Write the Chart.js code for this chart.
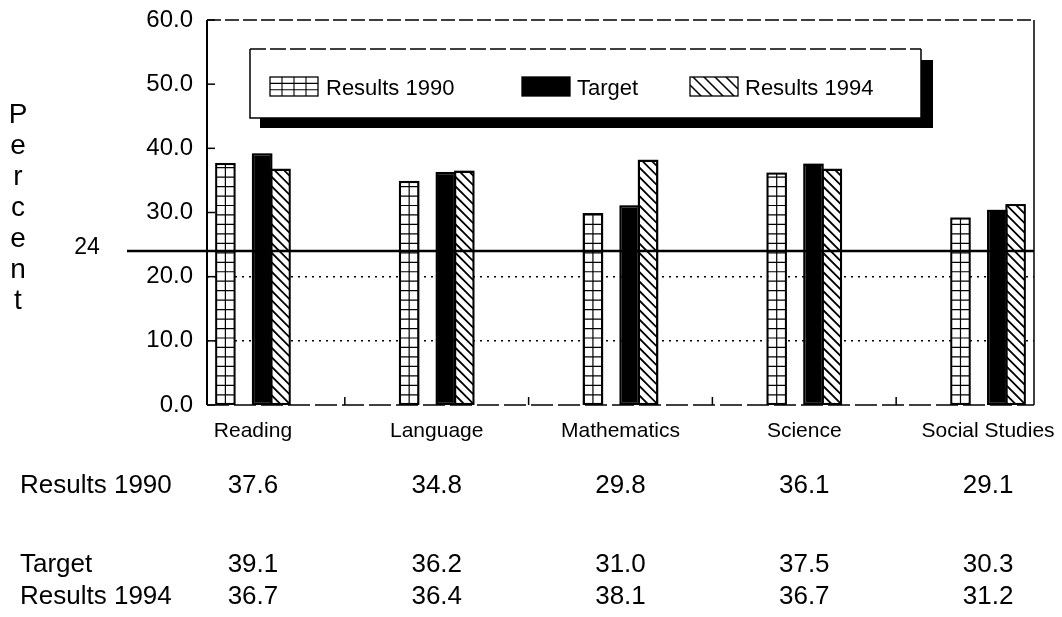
<!DOCTYPE html>
<html><head><meta charset="utf-8">
<script src="https://cdn.jsdelivr.net/npm/chart.js@4"></script>
<style>html,body{margin:0;padding:0;background:#fff}#wrap{width:1062px;height:617px}</style>
</head><body><div id="wrap"><canvas id="c" width="1062" height="617"></canvas></div>
<script>
// ---------- data ----------
const categories = ['Reading', 'Language', 'Mathematics', 'Science', 'Social Studies'];
const seriesNames = ['Results 1990', 'Target', 'Results 1994'];
const results1990 = [37.6, 34.8, 29.8, 36.1, 29.1];
const target      = [39.1, 36.2, 31.0, 37.5, 30.3];
const results1994 = [36.7, 36.4, 38.1, 36.7, 31.2];
const yTickValues = [0, 10, 20, 30, 40, 50, 60];
const referenceValue = 24;
const referenceLabel = '24';
const yTitle = 'Percent';

// ---------- style / layout ----------
const FONT = '"Liberation Sans", Arial, Helvetica, sans-serif';
const groupOffsets = [-0.15, 0.05, 0.15];
const seriesPatterns = ['grid', 'solid', 'hatch'];
const tableRowsY = [486, 565, 597];

function points(values, k) { return values.map((v, i) => ({ x: i + groupOffsets[k], y: v })); }

function gridFill(ctx, x0, y0, w, h, cw, ch, lw) {
  ctx.save();
  ctx.beginPath(); ctx.rect(x0, y0, w, h); ctx.clip();
  ctx.strokeStyle = '#000'; ctx.lineWidth = lw || 1.2;
  ctx.beginPath();
  for (let x = x0 + cw; x < x0 + w - 1; x += cw) { ctx.moveTo(x, y0); ctx.lineTo(x, y0 + h); }
  for (let y = y0 + h - ch; y > y0 + 1; y -= ch) { ctx.moveTo(x0, y); ctx.lineTo(x0 + w, y); }
  ctx.stroke();
  ctx.restore();
}
function hatchFill(ctx, x0, y0, w, h, pitch, lw) {
  ctx.save();
  ctx.beginPath(); ctx.rect(x0, y0, w, h); ctx.clip();
  ctx.strokeStyle = '#000'; ctx.lineWidth = lw || 1.8;
  ctx.beginPath();
  const yb = y0 + h;
  for (let s = 0; s < h + w + pitch; s += pitch) {
    ctx.moveTo(x0, yb - s); ctx.lineTo(x0 + w, yb - s + w);
  }
  ctx.stroke();
  ctx.restore();
}

const patternPlugin = {
  id: 'patterns',
  afterDatasetDraw(chart, args) {
    const kind = seriesPatterns[args.index];
    const ctx = chart.ctx;
    args.meta.data.forEach(el => {
      const p = el.getProps(['x', 'y', 'base', 'width'], true);
      const x0 = p.x - p.width / 2, top = Math.min(p.y, p.base), h = Math.abs(p.base - p.y);
      if (kind === 'grid') gridFill(ctx, x0, top, p.width, h, p.width / 2, p.width / 2);
      if (kind === 'hatch') hatchFill(ctx, x0, top, p.width, h, 9.5);
      ctx.save(); ctx.strokeStyle = '#000'; ctx.lineWidth = 1.5;
      ctx.strokeRect(x0, top, p.width, h); ctx.restore();
    });
  }
};

const framePlugin = {
  id: 'frame',
  afterDatasetsDraw(chart) {
    const { ctx, chartArea: a, scales: { x, y } } = chart;
    ctx.save();
    ctx.strokeStyle = '#000';
    ctx.lineWidth = 2; ctx.beginPath(); ctx.moveTo(a.left, a.top); ctx.lineTo(a.left, a.bottom); ctx.stroke();
    ctx.lineWidth = 1.5; ctx.beginPath(); ctx.moveTo(a.right, a.top); ctx.lineTo(a.right, a.bottom); ctx.stroke();
    ctx.setLineDash([14, 4]);
    ctx.beginPath(); ctx.moveTo(a.left, a.top); ctx.lineTo(a.right, a.top); ctx.stroke();
    ctx.setLineDash([22, 5]);
    ctx.beginPath(); ctx.moveTo(a.left, a.bottom); ctx.lineTo(a.right, a.bottom); ctx.stroke();
    ctx.setLineDash([]);
    ctx.lineWidth = 1.5;
    yTickValues.forEach(v => {
      const py = y.getPixelForValue(v);
      ctx.beginPath(); ctx.moveTo(a.left, py); ctx.lineTo(a.left + 8, py); ctx.stroke();
    });
    for (let i = 0; i < categories.length - 1; i++) {
      const px = x.getPixelForValue(i + 0.5);
      ctx.beginPath(); ctx.moveTo(px, a.bottom); ctx.lineTo(px, a.bottom - 8); ctx.stroke();
    }
    const ry = y.getPixelForValue(referenceValue);
    ctx.lineWidth = 2.5;
    ctx.beginPath(); ctx.moveTo(127, ry); ctx.lineTo(a.right, ry); ctx.stroke();
    ctx.fillStyle = '#000'; ctx.font = '23px ' + FONT; ctx.textAlign = 'center'; ctx.textBaseline = 'middle';
    ctx.fillText(referenceLabel, 87, ry - 3);
    ctx.restore();
  }
};

const decorPlugin = {
  id: 'decor',
  afterDraw(chart) {
    const { ctx, scales: { x } } = chart;
    ctx.save();
    ctx.fillStyle = '#000';
    ctx.font = '28px ' + FONT; ctx.textAlign = 'center'; ctx.textBaseline = 'middle';
    [...yTitle].forEach((ch, i) => ctx.fillText(ch, 18, 115 + i * 31));

    const L = 250, T = 49, R = 921, B = 118;
    ctx.fillRect(260, B, 933 - 260, 10);
    ctx.fillRect(R, 60, 12, B + 10 - 60);
    ctx.fillStyle = '#fff'; ctx.fillRect(L, T, R - L, B - T);
    ctx.strokeStyle = '#000'; ctx.lineWidth = 1.5;
    ctx.beginPath(); ctx.moveTo(L, T); ctx.lineTo(L, B); ctx.lineTo(R, B); ctx.lineTo(R, T); ctx.stroke();
    ctx.setLineDash([16, 4]); ctx.beginPath(); ctx.moveTo(L, T); ctx.lineTo(R, T); ctx.stroke(); ctx.setLineDash([]);
    const swX = [270, 522, 690], txX = [326, 577, 745];
    ctx.font = '22px ' + FONT; ctx.textAlign = 'left'; ctx.textBaseline = 'middle';
    chart.data.datasets.forEach((ds, k) => {
      const sx = swX[k], sy = 77, sw = 48, sh = 19;
      const kind = seriesPatterns[k];
      ctx.fillStyle = kind === 'solid' ? '#000' : '#fff';
      ctx.fillRect(sx, sy, sw, sh);
      if (kind === 'grid') gridFill(ctx, sx, sy, sw, sh, 12, 6.3, 1.1);
      if (kind === 'hatch') hatchFill(ctx, sx, sy, sw, sh, 11, 1.5);
      ctx.strokeStyle = '#000'; ctx.lineWidth = 1.3; ctx.strokeRect(sx, sy, sw, sh);
      ctx.fillStyle = '#000';
      ctx.fillText(ds.label, txX[k], 89);
    });

    ctx.font = '26px ' + FONT;
    chart.data.datasets.forEach((ds, k) => {
      const ty = tableRowsY[k];
      ctx.textAlign = 'left';
      ctx.fillText(ds.label, 20, ty);
      ctx.textAlign = 'center';
      ds.data.forEach((pt, i) => ctx.fillText(pt.y.toFixed(1), x.getPixelForValue(i), ty));
    });
    ctx.restore();
  }
};

const barCommon = { borderColor: '#000', borderWidth: 1.5, borderSkipped: false, grouped: false,
  categoryPercentage: 1, barPercentage: 1.03 };

new Chart(document.getElementById('c'), {
  type: 'bar',
  data: {
    datasets: [
      Object.assign({ label: seriesNames[0], data: points(results1990, 0), backgroundColor: '#fff' }, barCommon),
      Object.assign({ label: seriesNames[1], data: points(target, 1), backgroundColor: '#000' }, barCommon),
      Object.assign({ label: seriesNames[2], data: points(results1994, 2), backgroundColor: '#fff' }, barCommon)
    ]
  },
  options: {
    responsive: false, animation: false,
    layout: { padding: { left: 0, right: 28, top: 20, bottom: 172 } },
    plugins: { legend: { display: false }, tooltip: { enabled: false } },
    scales: {
      x: {
        type: 'linear', min: -0.25, max: 4.25, offset: false,
        grid: { display: false, drawTicks: false }, border: { display: false },
        afterBuildTicks: s => { s.ticks = categories.map((c, i) => ({ value: i })); },
        afterFit: s => { s.height = 40; s.paddingLeft = 0; s.paddingRight = 0; },
        ticks: { autoSkip: false, maxRotation: 0, padding: 14, color: '#000',
          font: { family: FONT, size: 21 }, callback: v => categories[v] }
      },
      y: {
        min: 0, max: 60,
        afterBuildTicks: s => { s.ticks = yTickValues.map(v => ({ value: v })); },
        afterFit: s => { s.width = 207; s.paddingTop = 0; s.paddingBottom = 0; },
        border: { display: false, dash: [2, 5] },
        grid: { drawTicks: false, lineWidth: 1.5,
          color: c => (c.tick && (c.tick.value === 10 || c.tick.value === 20)) ? '#000' : 'rgba(0,0,0,0)' },
        ticks: { padding: 14, color: '#000', font: { family: FONT, size: 24 }, callback: v => Number(v).toFixed(1) }
      }
    }
  },
  plugins: [patternPlugin, framePlugin, decorPlugin]
});
</script>
</body></html>
